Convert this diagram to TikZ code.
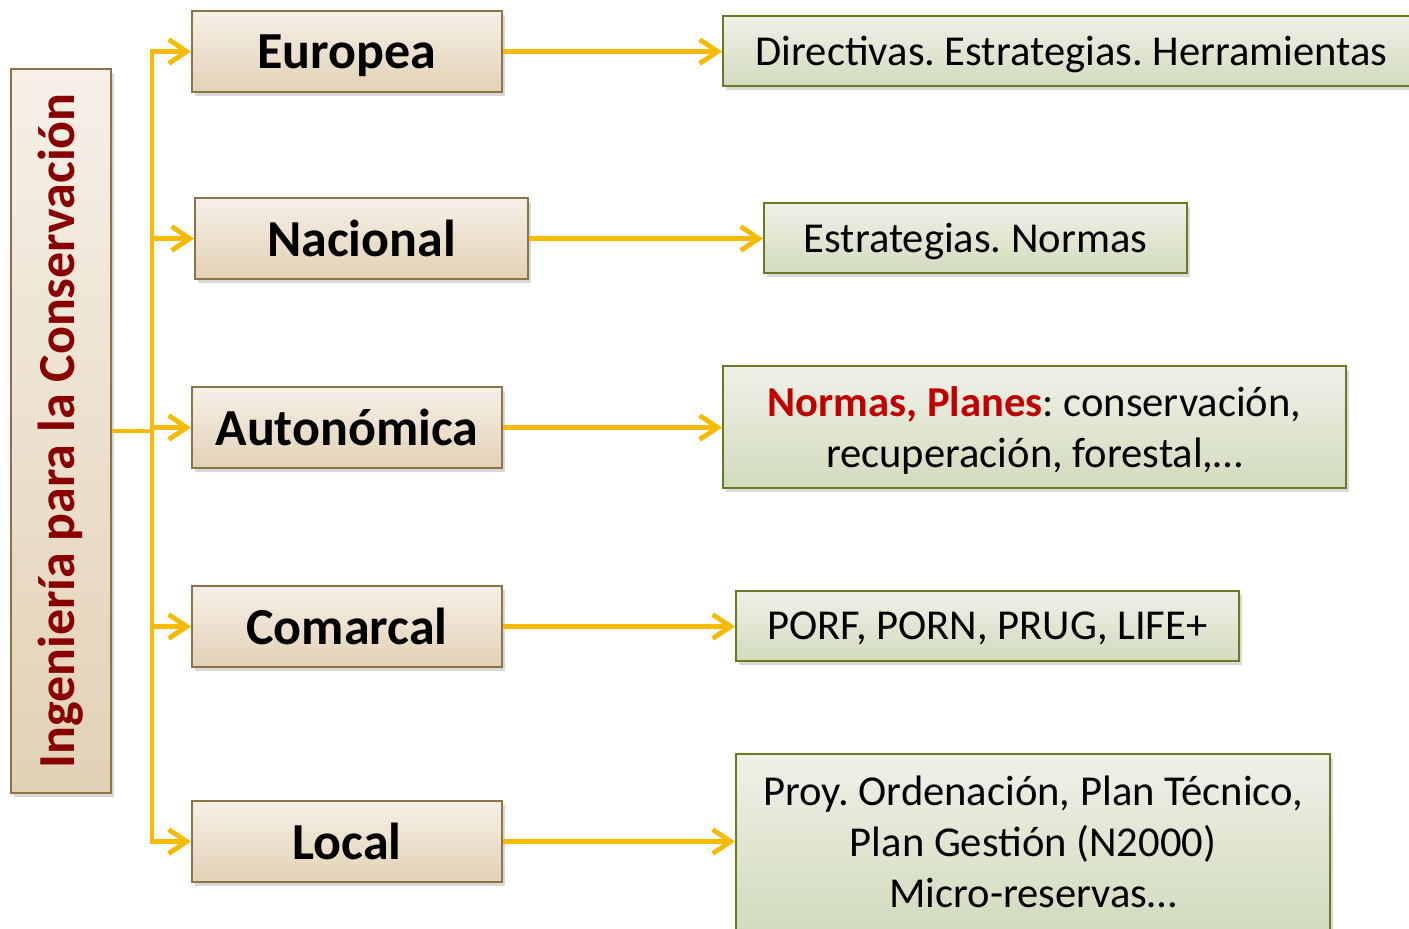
\documentclass[tikz,border=0pt]{standalone}
\usepackage{fontspec}
\setmainfont{Carlito}
\frenchspacing
\usetikzlibrary{arrows.meta, shadows}
\definecolor{flecha}{HTML}{F6BB00}
\definecolor{marronborde}{HTML}{8C7448}
\definecolor{verdeborde}{HTML}{6A7A22}
\definecolor{rojotitulo}{HTML}{880000}
\definecolor{rojonorma}{HTML}{C00000}

\tikzset{
    nivel/.style={draw=marronborde, line width=1pt, top color={rgb,255:red,246;green,240;blue,232}, bottom color={rgb,255:red,226;green,209;blue,181},
        minimum height=40.5pt, inner sep=0pt, text depth=0pt, font=\fontsize{26}{30}\selectfont\bfseries,
        drop shadow={shadow xshift=1.5pt, shadow yshift=-2pt, opacity=0.3}},
    instrumento/.style={draw=verdeborde, line width=1pt, top color={rgb,255:red,239;green,241;blue,232}, bottom color={rgb,255:red,210;green,219;blue,189},
        inner sep=0pt, text depth=0pt, align=center, font=\fontsize{21.3}{25.5}\selectfont,
        drop shadow={shadow xshift=1.5pt, shadow yshift=-2pt, opacity=0.3}},
    flechas/.style={draw=flecha, line width=2.4pt, -{Straight Barb[length=9pt, width=12pt]}},
    linea/.style={draw=flecha, line width=2.4pt}
}

\begin{document}
\begin{tikzpicture}[x=0.5pt, y=-0.5pt]
    \useasboundingbox (0,0) rectangle (1409,928);

    % Titulo vertical
    \node[nivel, text depth=, minimum width=50pt, minimum height=362pt] (titulo) at (61,431)
        {\rotatebox{90}{\fontsize{26}{30}\selectfont\color{rojotitulo}Ingeniería para la Conservación}};

    % Niveles
    \node[nivel, minimum width=155pt] (eu) at (347,51.5) {Europea};
    \node[nivel, minimum width=166.5pt] (na) at (361.5,238.5) {Nacional};
    \node[nivel, minimum width=155pt] (au) at (347,427.5) {Autonómica};
    \node[nivel, minimum width=155pt] (co) at (347,626.5) {Comarcal};
    \node[nivel, minimum width=155pt] (lo) at (347,841.5) {Local};

    % Instrumentos
    \node[instrumento, minimum width=348.5pt, minimum height=35pt] (dir) at (1071.5,51) {Directivas. Estrategias. Herramientas};
    \node[instrumento, minimum width=211.5pt, minimum height=35pt] (est) at (975.5,238) {Estrategias. Normas};
    \node[instrumento, minimum width=311.5pt, minimum height=61pt] (nor) at (1034.5,427)
        {\textcolor{rojonorma}{\bfseries Normas, Planes}: conservación,\\recuperación, forestal,…};
    \node[instrumento, minimum width=251.5pt, minimum height=35pt] (porf) at (987.5,626) {PORF, PORN, PRUG, LIFE+};
    \node[instrumento, minimum width=297pt, minimum height=88pt] (proy) at (1033,842)
        {Proy. Ordenación, Plan Técnico,\\Plan Gestión (N2000)\\Micro-reservas…};

    % Flechas
    \coordinate (tronco) at (152,431);
    \draw[linea] (titulo.east) -- (tronco);
    \foreach \n in {eu, na, au, co, lo}
        \draw[flechas] (tronco) |- (\n.west);
    \draw[flechas] (eu.east) -- (eu.east -| dir.west);
    \draw[flechas] (na.east) -- (na.east -| est.west);
    \draw[flechas] (au.east) -- (au.east -| nor.west);
    \draw[flechas] (co.east) -- (co.east -| porf.west);
    \draw[flechas] (lo.east) -- (lo.east -| proy.west);
\end{tikzpicture}
\end{document}
